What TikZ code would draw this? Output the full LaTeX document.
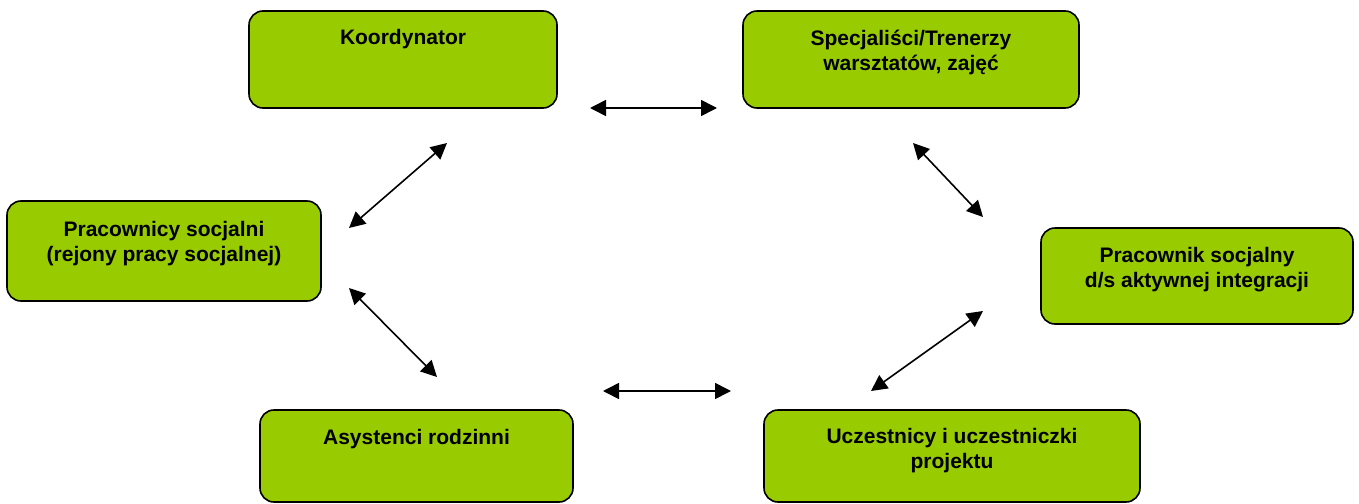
\documentclass[tikz,border=0pt]{standalone}
\usepackage{fontspec}
\setmainfont{Liberation Sans}
\usetikzlibrary{arrows.meta}
\definecolor{boxgreen}{HTML}{99CC00}
\tikzset{
  box/.style={draw=black, line width=1.6pt, fill=boxgreen, rounded corners=14pt, inner sep=0pt},
  lbl/.style={font=\fontsize{21}{25.5}\selectfont\bfseries, align=center, inner sep=0pt, anchor=base},
  link/.style={line width=1.6pt, {Triangle[length=16pt,width=16pt]}-{Triangle[length=16pt,width=16pt]}}
}
\begin{document}
\begin{tikzpicture}[x=1pt,y=-1pt]
\useasboundingbox (0,0) rectangle (1359,503);
% boxes
\node[box, minimum width=308pt, minimum height=97pt] (k) at (403,59.5) {};
\node[box, minimum width=336pt, minimum height=97pt] (s) at (911,59.5) {};
\node[box, minimum width=314pt, minimum height=100pt] (p) at (164,251) {};
\node[box, minimum width=312pt, minimum height=96pt] (ps) at (1197,276) {};
\node[box, minimum width=313pt, minimum height=92pt] (a) at (416.5,456) {};
\node[box, minimum width=376pt, minimum height=92pt] (u) at (952,456) {};
% labels (base = baseline of last line)
\node[lbl] (kt) at (403,45) {Koordynator};
\node[lbl] (st) at (911,70.5) {Specjaliści/Trenerzy\\warsztatów, zajęć};
\node[lbl] (pt) at (164,261.5) {Pracownicy socjalni\\(rejony pracy socjalnej)};
\node[lbl] (pst) at (1197,287.5) {Pracownik socjalny\\d/s aktywnej integracji};
\node[lbl] (at) at (416.5,444) {Asystenci rodzinni};
\node[lbl] (ut) at (952,468.5) {Uczestnicy i uczestniczki\\projektu};
% connector ends
\coordinate (a1s) at (590,108); \coordinate (a1e) at (717,108);
\coordinate (a2s) at (447,143); \coordinate (a2e) at (349,228);
\coordinate (a3s) at (349,288); \coordinate (a3e) at (437,377);
\coordinate (a4s) at (913,143); \coordinate (a4e) at (983,217);
\coordinate (a5s) at (983,311); \coordinate (a5e) at (871,391);
\coordinate (a6s) at (603,391); \coordinate (a6e) at (731,391);
\draw[link] (a1s) -- (a1e);
\draw[link] (a2s) -- (a2e);
\draw[link] (a3s) -- (a3e);
\draw[link] (a4s) -- (a4e);
\draw[link] (a5s) -- (a5e);
\draw[link] (a6s) -- (a6e);
\end{tikzpicture}
\end{document}
